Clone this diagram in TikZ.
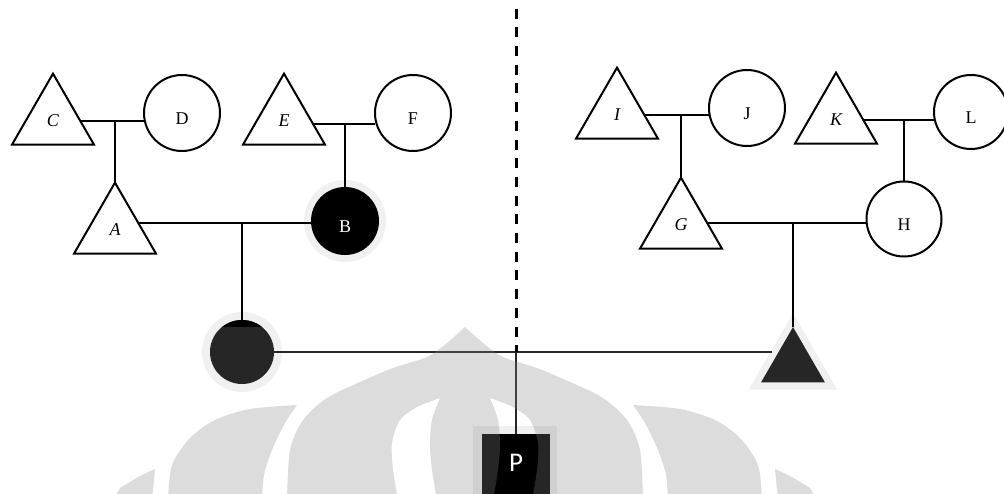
\documentclass[tikz,border=0pt]{standalone}
\usepackage{fontspec}
\setmainfont{Liberation Serif}
\newfontfamily\pfont{Carlito}
\usetikzlibrary{shapes.geometric}
\definecolor{dk}{HTML}{262626}
\definecolor{halo}{HTML}{F0F0F0}
\tikzset{
  tri/.style={regular polygon, regular polygon sides=3, draw, line width=2pt,
    minimum size=94.7pt, inner sep=0pt, outer sep=0pt,
    font=\fontsize{18}{18}\selectfont\itshape},
  circ/.style={circle, draw, line width=2pt, minimum size=76pt, inner sep=0pt,
    outer sep=0pt, font=\fontsize{18}{18}\selectfont, text height=24pt, text depth=0pt},
  link/.style={line width=2pt},
  thinlink/.style={line width=1.5pt, black!85},
  dashlink/.style={line width=3pt, dash pattern=on 10pt off 8.7pt, dash phase=10pt},
  wm/.style={fill=black!48, fill opacity=0.29, draw=none},
}
\begin{document}
\begin{tikzpicture}[x=1pt,y=-1pt]
\useasboundingbox (0,0) rectangle (1004,494);
\clip (0,0) rectangle (1004,494);
% halos
\node[circle, fill=halo, minimum size=82pt, inner sep=0pt] (Bhalo) at (345,221) {};
\node[circle, fill=halo, minimum size=80pt, inner sep=0pt] (Xhalo) at (242,352) {};
\node[regular polygon, regular polygon sides=3, fill=halo, minimum size=102pt, inner sep=0pt] (Thalo) at (793,364) {};
\node[rectangle, fill=halo, minimum width=84pt, minimum height=84pt, inner sep=0pt] (Phalo) at (515,468) {};
% left family
\node[tri] (C) at (53,121) {C};
\node[circ] (D) at (182,113) {D};
\node[tri] (E) at (284,121) {E};
\node[circ] (F) at (413,113) {F};
\node[tri] (A) at (115,230) {A};
\node[circ, fill=black, text=white, minimum size=66pt] (B) at (345,221) {B};
\node[circle, fill=dk, minimum size=64pt, inner sep=0pt, outer sep=0pt] (X) at (242,352) {};
% right family
\node[tri] (I) at (617,115) {I};
\node[circ] (J) at (747,108) {J};
\node[tri] (K) at (836,120) {K};
\node[circ, minimum size=74pt] (L) at (971,112) {L};
\node[tri] (G) at (681,225) {G};
\node[circ, minimum size=75pt] (H) at (904,219) {H};
\node[regular polygon, regular polygon sides=3, fill=dk, minimum size=73.9pt, inner sep=0pt, outer sep=0pt] (T) at (793,364) {};
% proband
\node[rectangle, fill=black, text=white, minimum size=68pt, inner sep=0pt, outer sep=0pt,
  font=\pfont\fontsize{27}{27}\selectfont, text depth=10pt] (P) at (516,468) {P};
% cap of X
\begin{scope}
  \clip (X.center) circle[radius=32];
  \fill[black] ([xshift=-40pt]X.north) rectangle ([xshift=40pt,yshift=-7pt]X.north);
\end{scope}
% connectors
\draw[link] (C.0) -- (C.0 -| D.west);
\draw[link] (A.corner 1 |- C.0) -- (A.corner 1);
\draw[link] (E.-6) -- (E.-6 -| F.west);
\draw[link] (B.north |- E.-6) -- (B.north);
\draw[link] (A.17) -- (A.17 -| B.west);
\draw[link] (X.north |- A.17) -- (X.north);
\draw[link] (I.0) -- (I.0 -| J.west);
\draw[link] (G.corner 1 |- I.0) -- (G.corner 1);
\draw[link] (K.0) -- (K.0 -| L.west);
\draw[link] (H.north |- K.0) -- (H.north);
\draw[link] (G.5) -- (G.5 -| H.west);
\draw[link] (T.corner 1 |- G.5) -- (T.corner 1);
\draw[thinlink] (X.east) -- (X.east -| T.180);
\coordinate (top) at (516,0);
\draw[dashlink] (top) -- (top |- X.east);
\draw[thinlink] (top |- X.east) -- (P.north);
% watermark overlay
\fill[wm, even odd rule]
  plot[smooth] coordinates {(287,500) (290,450) (303,420) (327,398) (360,382) (393,368) (427,357) (447,343) (465,327)}
  -- plot[smooth] coordinates {(465,327) (483,343) (503,357) (537,368) (570,382) (603,398) (627,420) (640,450) (643,500)} -- cycle
  plot[smooth] coordinates {(440,398) (417,407) (400,420) (392,443) (393,470) (398,500)}
  -- plot[smooth] coordinates {(437,500) (432,470) (430,445) (432,420) (440,398)} -- cycle
  plot[smooth] coordinates {(490,398) (513,407) (530,420) (538,443) (537,470) (532,500)}
  -- plot[smooth] coordinates {(493,500) (498,470) (500,445) (498,420) (490,398)} -- cycle;
\fill[wm]
  plot[smooth] coordinates {(168,500) (172,465) (190,438) (215,420) (250,409) (297,405)}
  -- plot[smooth] coordinates {(297,405) (285,423) (272,450) (264,475) (262,500)} -- cycle;
\fill[wm]
  plot[smooth] coordinates {(762,500) (758,465) (740,438) (715,420) (680,409) (633,405)}
  -- plot[smooth] coordinates {(633,405) (645,423) (658,450) (666,475) (668,500)} -- cycle;
\fill[wm] (113,500) -- plot[smooth] coordinates {(120,488) (140,476) (155,469)} -- (152,500) -- cycle;
\fill[wm] (817,500) -- plot[smooth] coordinates {(810,488) (790,476) (775,469)} -- (778,500) -- cycle;
\end{tikzpicture}
\end{document}
